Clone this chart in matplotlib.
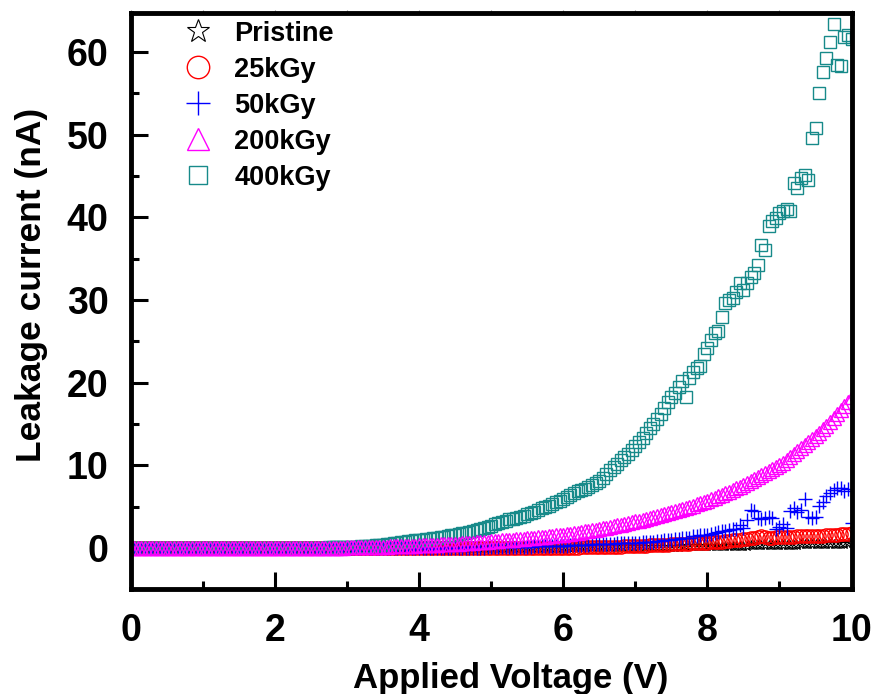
import matplotlib.pyplot as plt
import numpy as np
from matplotlib.ticker import MultipleLocator

# tension appliquee (V), balayage par pas de 0.05 V
voltage = np.round(np.arange(201) * 0.05, 2)

# courants de fuite (nA), 10 valeurs par ligne (0.5 V)
pristine = [
    0.0, 0.0, 0.0, 0.0, 0.0, 0.0, 0.0, 0.0, 0.0, 0.0,
    0.0, 0.0, 0.0, 0.0, 0.0, 0.0, 0.0, 0.0, 0.0, 0.0,
    0.0, 0.0, 0.0, 0.0, 0.0, 0.0, 0.0, 0.0, 0.0, 0.0,
    0.0, 0.0, 0.0, 0.0, 0.0, 0.0, 0.0, 0.0, 0.0, 0.0,
    0.0, 0.0, 0.0, 0.0, 0.0, 0.0, 0.0, 0.0, 0.0, 0.0,
    0.0, 0.0, 0.0, 0.0, 0.0, 0.0, 0.0, 0.0, 0.0, 0.0,
    0.0, 0.0, 0.0, 0.0, 0.0, 0.0, 0.0, 0.0, 0.0, 0.0,
    0.0, 0.0, 0.0, 0.0, 0.0, 0.0, 0.0, 0.0, 0.0, 0.0,
    0.0, 0.0, 0.0, 0.0, 0.0, 0.0, 0.0, 0.0, 0.0, 0.0,
    0.0, 0.0, 0.0, 0.0, 0.0, 0.0, 0.0, 0.0, 0.0, 0.0,
    0.00, 0.00, 0.00, 0.00, 0.01, 0.01, 0.01, 0.01, 0.01, 0.01,
    0.02, 0.02, 0.02, 0.02, 0.03, 0.03, 0.03, 0.03, 0.03, 0.04,
    0.04, 0.04, 0.04, 0.05, 0.05, 0.05, 0.05, 0.06, 0.06, 0.06,
    0.07, 0.07, 0.07, 0.08, 0.08, 0.08, 0.09, 0.09, 0.10, 0.10,
    0.10, 0.11, 0.11, 0.12, 0.12, 0.13, 0.13, 0.14, 0.14, 0.15,
    0.15, 0.16, 0.16, 0.17, 0.17, 0.18, 0.18, 0.19, 0.20, 0.20,
    0.21, 0.21, 0.22, 0.23, 0.23, 0.24, 0.25, 0.25, 0.26, 0.27,
    0.27, 0.28, 0.29, 0.30, 0.30, 0.31, 0.32, 0.33, 0.34, 0.35,
    0.35, 0.36, 0.37, 0.38, 0.39, 0.40, 0.41, 0.42, 0.43, 0.44,
    0.45, 0.46, 0.47, 0.48, 0.49, 0.50, 0.51, 0.52, 0.53, 0.54,
    0.55]

kgy25 = [
    0.0, 0.0, 0.0, 0.0, 0.0, 0.0, 0.0, 0.0, 0.0, 0.0,
    0.0, 0.0, 0.0, 0.0, 0.0, 0.0, 0.0, 0.0, 0.0, 0.0,
    0.0, 0.0, 0.0, 0.0, 0.0, 0.0, 0.0, 0.0, 0.0, 0.0,
    0.0, 0.0, 0.0, 0.0, 0.0, 0.0, 0.0, 0.0, 0.0, 0.0,
    0.0, 0.0, 0.0, 0.0, 0.0, 0.0, 0.0, 0.0, 0.0, 0.0,
    0.0, 0.0, 0.0, 0.0, 0.0, 0.0, 0.0, 0.0, 0.0, 0.0,
    0.0, 0.0, 0.0, 0.0, 0.0, 0.0, 0.0, 0.0, 0.0, 0.0,
    0.0, 0.0, 0.0, 0.0, 0.0, 0.0, 0.0, 0.0, 0.0, 0.0,
    0.0, 0.0, 0.0, 0.0, 0.0, 0.0, 0.0, 0.0, 0.0, 0.0,
    0.0, 0.0, 0.0, 0.0, 0.0, 0.0, 0.0, 0.0, 0.0, 0.0,
    0.0, 0.0, 0.0, 0.0, 0.0, 0.0, 0.0, 0.0, 0.0, 0.0,
    0.0, 0.0, 0.0, 0.0, 0.0, 0.0, 0.0, 0.0, 0.0, 0.0,
    0.01, 0.02, 0.02, 0.03, 0.04, 0.05, 0.05, 0.06, 0.07, 0.08,
    0.09, 0.10, 0.11, 0.12, 0.13, 0.14, 0.16, 0.17, 0.19, 0.20,
    0.22, 0.24, 0.26, 0.28, 0.30, 0.32, 0.34, 0.36, 0.38, 0.40,
    0.42, 0.44, 0.46, 0.48, 0.50, 0.52, 0.54, 0.56, 0.58, 0.60,
    0.63, 0.66, 0.69, 0.72, 0.75, 0.80, 0.85, 0.90, 0.95, 1.00,
    1.05, 1.10, 1.15, 1.20, 1.35, 1.40, 1.30, 1.25, 1.25, 1.28,
    1.30, 1.32, 1.33, 1.35, 1.36, 1.38, 1.40, 1.41, 1.42, 1.43,
    1.45, 1.47, 1.49, 1.51, 1.53, 1.56, 1.59, 1.62, 1.66, 1.70,
    1.75]

kgy50 = [
    0.0, 0.0, 0.0, 0.0, 0.0, 0.0, 0.0, 0.0, 0.0, 0.0,
    0.0, 0.0, 0.0, 0.0, 0.0, 0.0, 0.0, 0.0, 0.0, 0.0,
    0.0, 0.0, 0.0, 0.0, 0.0, 0.0, 0.0, 0.0, 0.0, 0.0,
    0.0, 0.0, 0.0, 0.0, 0.0, 0.0, 0.0, 0.0, 0.0, 0.0,
    0.0, 0.0, 0.0, 0.0, 0.0, 0.0, 0.0, 0.0, 0.0, 0.0,
    0.0, 0.0, 0.0, 0.0, 0.0, 0.0, 0.0, 0.0, 0.0, 0.0,
    0.0, 0.0, 0.0, 0.0, 0.0, 0.0, 0.0, 0.0, 0.0, 0.0,
    0.0, 0.0, 0.0, 0.0, 0.0, 0.0, 0.0, 0.0, 0.0, 0.0,
    0.0, 0.0, 0.0, 0.0, 0.0, 0.0, 0.0, 0.0, 0.0, 0.0,
    0.00, 0.00, 0.01, 0.01, 0.02, 0.02, 0.03, 0.03, 0.04, 0.05,
    0.05, 0.06, 0.07, 0.08, 0.09, 0.10, 0.11, 0.12, 0.13, 0.14,
    0.15, 0.16, 0.17, 0.18, 0.19, 0.20, 0.21, 0.22, 0.23, 0.24,
    0.25, 0.27, 0.29, 0.31, 0.33, 0.35, 0.37, 0.39, 0.41, 0.43,
    0.45, 0.47, 0.49, 0.50, 0.52, 0.54, 0.55, 0.57, 0.58, 0.59,
    0.60, 0.63, 0.66, 0.70, 0.73, 0.77, 0.80, 0.85, 0.90, 0.95,
    1.00, 1.05, 1.10, 1.15, 1.20, 1.25, 1.40, 1.45, 1.50, 1.55,
    1.60, 1.70, 1.80, 1.95, 2.00, 2.10, 2.20, 2.30, 2.30, 2.80,
    2.40, 3.40, 4.60, 4.50, 3.60, 3.50, 3.60, 3.70, 3.60, 2.30,
    2.50, 2.90, 2.40, 4.50, 4.80, 4.40, 4.60, 5.90, 3.70, 3.60,
    3.70, 5.10, 5.50, 6.30, 6.70, 7.00, 7.30, 7.20, 6.90, 7.10,
    3.00]

kgy200 = [
    0.0, 0.0, 0.0, 0.0, 0.0, 0.0, 0.0, 0.0, 0.0, 0.0,
    0.0, 0.0, 0.0, 0.0, 0.0, 0.0, 0.0, 0.0, 0.0, 0.0,
    0.0, 0.0, 0.0, 0.0, 0.0, 0.0, 0.0, 0.0, 0.0, 0.0,
    0.0, 0.0, 0.0, 0.0, 0.0, 0.0, 0.0, 0.0, 0.0, 0.0,
    0.0, 0.0, 0.0, 0.0, 0.0, 0.0, 0.0, 0.0, 0.0, 0.0,
    0.0, 0.0, 0.0, 0.0, 0.0, 0.0, 0.0, 0.0, 0.0, 0.0,
    0.05, 0.06, 0.07, 0.08, 0.09, 0.10, 0.11, 0.12, 0.13, 0.14,
    0.15, 0.16, 0.18, 0.19, 0.21, 0.22, 0.24, 0.25, 0.27, 0.28,
    0.30, 0.32, 0.34, 0.36, 0.38, 0.40, 0.42, 0.44, 0.46, 0.48,
    0.50, 0.53, 0.56, 0.59, 0.62, 0.65, 0.68, 0.71, 0.74, 0.77,
    0.80, 0.83, 0.87, 0.90, 0.94, 0.97, 1.01, 1.04, 1.08, 1.11,
    1.15, 1.19, 1.24, 1.28, 1.33, 1.37, 1.42, 1.46, 1.51, 1.55,
    1.60, 1.66, 1.72, 1.79, 1.86, 1.93, 2.00, 2.07, 2.15, 2.22,
    2.30, 2.38, 2.46, 2.55, 2.64, 2.73, 2.82, 2.91, 3.01, 3.10,
    3.20, 3.30, 3.40, 3.51, 3.62, 3.73, 3.84, 3.96, 4.07, 4.19,
    4.30, 4.43, 4.56, 4.69, 4.83, 4.97, 5.11, 5.25, 5.40, 5.55,
    5.70, 5.87, 6.05, 6.23, 6.42, 6.61, 6.80, 6.99, 7.19, 7.40,
    7.60, 7.83, 8.06, 8.29, 8.53, 8.77, 9.01, 9.26, 9.50, 9.75,
    10.00, 10.33, 10.66, 11.00, 11.34, 11.70, 12.05, 12.41, 12.77, 13.13,
    13.50, 13.92, 14.35, 14.79, 15.24, 15.70, 16.17, 16.66, 17.16, 17.67,
    18.20]

kgy400 = [
    0.0, 0.0, 0.0, 0.0, 0.0, 0.0, 0.0, 0.0, 0.0, 0.0,
    0.0, 0.0, 0.0, 0.0, 0.0, 0.0, 0.0, 0.0, 0.0, 0.0,
    0.0, 0.0, 0.0, 0.0, 0.0, 0.0, 0.0, 0.0, 0.0, 0.0,
    0.0, 0.0, 0.0, 0.0, 0.0, 0.0, 0.0, 0.0, 0.0, 0.0,
    0.00, 0.00, 0.00, 0.00, 0.01, 0.01, 0.01, 0.01, 0.02, 0.02,
    0.02, 0.03, 0.03, 0.04, 0.04, 0.05, 0.06, 0.07, 0.08, 0.09,
    0.10, 0.12, 0.14, 0.16, 0.19, 0.22, 0.25, 0.28, 0.32, 0.36,
    0.40, 0.45, 0.50, 0.55, 0.60, 0.66, 0.72, 0.78, 0.84, 0.90,
    0.95, 1.00, 1.05, 1.10, 1.15, 1.22, 1.28, 1.35, 1.42, 1.50,
    1.58, 1.66, 1.75, 1.85, 1.95, 2.05, 2.15, 2.28, 2.42, 2.55,
    2.70, 2.85, 3.00, 3.15, 3.30, 3.45, 3.55, 3.65, 3.78, 3.90,
    4.05, 4.20, 4.40, 4.60, 4.80, 4.95, 5.10, 5.30, 5.50, 5.70,
    5.90, 6.10, 6.40, 6.70, 6.90, 7.00, 7.15, 7.35, 7.55, 7.80,
    8.10, 8.50, 8.90, 9.40, 9.80, 10.20, 10.60, 11.00, 11.40, 11.80,
    12.30, 12.80, 13.30, 13.90, 14.50, 15.00, 15.60, 16.20, 16.90, 17.60,
    18.30, 18.70, 19.50, 20.20, 18.20, 20.50, 21.30, 21.80, 22.00, 23.50,
    24.20, 25.10, 26.00, 26.30, 27.90, 29.60, 30.00, 30.20, 31.00, 32.10,
    31.20, 32.00, 32.80, 33.30, 34.20, 36.60, 36.00, 39.00, 39.50, 39.90,
    40.50, 40.80, 41.00, 40.80, 44.20, 43.60, 44.80, 45.10, 44.50, 49.60,
    50.80, 55.00, 57.60, 59.30, 61.20, 63.40, 58.40, 58.30, 61.80, 62.00,
    61.60]

plt.rcParams['font.family'] = ['Liberation Sans', 'DejaVu Sans']
plt.rcParams['font.weight'] = 'bold'

fig = plt.figure(figsize=(8.77, 6.94), dpi=100)
ax = fig.add_axes([0.149, 0.151, 0.822, 0.830])

# ordre de trace : les triangles magenta passent au-dessus des carres
h0, = ax.plot(voltage, pristine, '*', ms=7, mfc='none', mec='k', mew=0.8, label='Pristine')
h1, = ax.plot(voltage, kgy25, 'o', ms=9.5, mfc='none', mec='#ff0000', mew=1.0, label='25kGy')
h2, = ax.plot(voltage, kgy50, '+', ms=10, mec='#0000ff', mew=1.0, label='50kGy')
h4, = ax.plot(voltage, kgy400, 's', ms=8, mfc='none', mec='#178a8a', mew=1.0, label='400kGy')
h3, = ax.plot(voltage, kgy200, '^', ms=9.5, mfc='none', mec='#ff00ff', mew=1.0, label='200kGy')

ax.set_xlim(0, 10)
ax.set_ylim(-5, 64.7)
ax.xaxis.set_major_locator(MultipleLocator(2))
ax.xaxis.set_minor_locator(MultipleLocator(1))
ax.yaxis.set_major_locator(MultipleLocator(10))
ax.yaxis.set_minor_locator(MultipleLocator(5))

for s in ax.spines.values():
    s.set_linewidth(3.5)

ax.tick_params(which='major', direction='in', length=12, width=2.2, labelsize=27,
               top=False, right=False)
ax.tick_params(which='minor', direction='in', length=6, width=2.2, top=False, right=False)
ax.tick_params(axis='x', which='major', pad=17)
ax.tick_params(axis='y', which='major', pad=16)
for lab in ax.get_xticklabels() + ax.get_yticklabels():
    lab.set_fontweight('bold')

# petits traits gris au-dessus du cadre
sec = ax.secondary_xaxis('top')
sec.xaxis.set_major_locator(MultipleLocator(1))
sec.tick_params(direction='out', length=2.5, width=0.8, colors='#888888', labeltop=False)
sec.spines['top'].set_visible(False)

ax.set_xlabel('Applied Voltage (V)', fontsize=25, fontweight='bold')
ax.set_ylabel('Leakage current (nA)', fontsize=25.5, fontweight='bold')
ax.xaxis.set_label_coords(0.527, -0.127)
ax.yaxis.set_label_coords(-0.115, 0.528)

leg = ax.legend(handles=[h0, h1, h2, h3, h4], loc='upper left', frameon=False,
                markerscale=1.7, prop={'weight': 'bold', 'size': 19.5},
                labelspacing=0.37, handlelength=1.5, handletextpad=0.6,
                borderaxespad=0.0, bbox_to_anchor=(0.05, 1.006))
leg.legend_handles[0].set_markersize(17)

fig.savefig('out.png', dpi=100)
